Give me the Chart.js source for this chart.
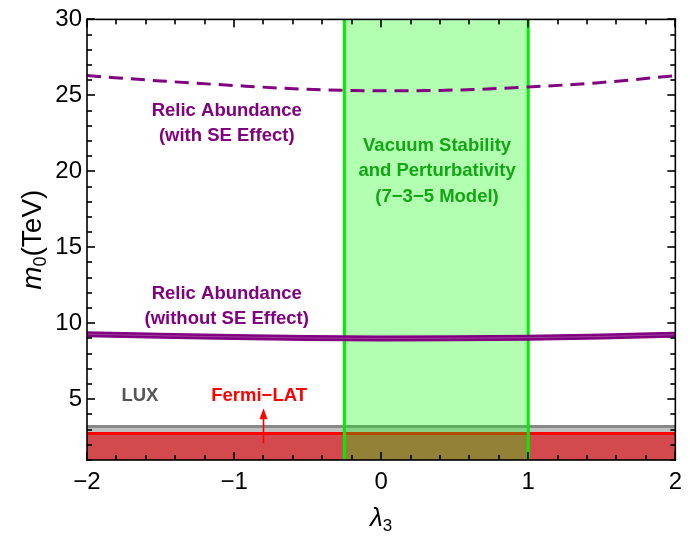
<!DOCTYPE html>
<html><head><meta charset="utf-8">
<script src="https://cdn.jsdelivr.net/npm/chart.js@4"></script>
<style>html,body{margin:0;padding:0;background:#fff}</style>
</head><body>
<canvas id="c" width="690" height="538"></canvas>
<script>
// ---- data ----
const lambdaPts = [-2, -1.5, -1, -0.5, 0, 0.5, 1, 1.5, 2];
const relicWithSE = [26.3, 25.95, 25.65, 25.4, 25.3, 25.35, 25.55, 25.85, 26.3];
const relicWithoutSE = [9.28, 9.18, 9.1, 9.03, 9.0, 9.01, 9.05, 9.13, 9.25];
const luxLimit = 3.2;
const fermiLimit = 2.75;
const stabilityRange = [-0.25, 1];
const xRange = [-2, 2];
const yRange = [1, 30];
const xTickLabels = [-2, -1, 0, 1, 2];
const yTickLabels = [5, 10, 15, 20, 25, 30];
const xMinorStep = 0.2;
const yMinorStep = 1;
const fermiArrow = {x: -0.8, from: 2.1, to: 4.4};

const FONT = '"Liberation Sans", Arial, Helvetica, sans-serif';
const pts = (xs, ys) => xs.map((x, i) => ({x, y: ys[i]}));
const flat = (v) => [{x: xRange[0], y: v}, {x: xRange[1], y: v}];

const labels = [
  {text: ['Relic Abundance', '(with SE Effect)'], x: -1.05, y: [23.95, 22.35], color: '#800080'},
  {text: ['Relic Abundance', '(without SE Effect)'], x: -1.05, y: [11.95, 10.3], color: '#800080'},
  {text: ['Vacuum Stability', 'and Perturbativity', '(7\u22123\u22125 Model)'], x: 0.38, y: [21.7, 20.05, 18.3], color: '#12a612'},
  {text: ['LUX'], x: -1.64, y: [5.2], color: '#555555'},
  {text: ['Fermi\u2212LAT'], x: -0.83, y: [5.2], color: '#ff0000'}
];

const decor = {
  id: 'decor',
  afterDraw(chart) {
    const ctx = chart.ctx, a = chart.chartArea;
    const sx = chart.scales.x, sy = chart.scales.y;
    ctx.save();
    ctx.setLineDash([]);
    // arrow
    const ax = sx.getPixelForValue(fermiArrow.x);
    const y0 = sy.getPixelForValue(fermiArrow.from), y1 = sy.getPixelForValue(fermiArrow.to);
    ctx.fillStyle = '#ff0000';
    ctx.fillRect(ax - 0.8, y1 + 8, 1.6, y0 - y1 - 8);
    ctx.beginPath(); ctx.moveTo(ax, y1); ctx.lineTo(ax - 4, y1 + 11); ctx.lineTo(ax + 4, y1 + 11); ctx.closePath(); ctx.fill();
    // labels
    ctx.textAlign = 'center'; ctx.textBaseline = 'middle';
    ctx.font = 'bold 18.5px ' + FONT;
    labels.forEach(l => {
      ctx.fillStyle = l.color;
      l.text.forEach((t, i) => ctx.fillText(t, sx.getPixelForValue(l.x), sy.getPixelForValue(l.y[i])));
    });
    // frame + inward ticks
    ctx.fillStyle = '#000000';
    const W = a.right - a.left, H = a.bottom - a.top;
    ctx.fillRect(a.left - 0.8, a.top - 0.8, W + 1.6, 1.6);
    ctx.fillRect(a.left - 0.8, a.bottom - 0.8, W + 1.6, 1.6);
    ctx.fillRect(a.left - 0.8, a.top - 0.8, 1.6, H + 1.6);
    ctx.fillRect(a.right - 0.8, a.top - 0.8, 1.6, H + 1.6);
    const nx = Math.round((xRange[1] - xRange[0]) / xMinorStep);
    for (let i = 0; i <= nx; i++) {
      const v = xRange[0] + i * xMinorStep;
      const L = xTickLabels.some(t => Math.abs(t - v) < 1e-6) ? 8 : 5;
      const px = Math.round(sx.getPixelForValue(v));
      ctx.fillRect(px - 0.8, a.bottom - L, 1.6, L);
      ctx.fillRect(px - 0.8, a.top, 1.6, L);
    }
    for (let v = yRange[0]; v <= yRange[1]; v += yMinorStep) {
      const L = yTickLabels.includes(v) ? 8 : 5;
      const py = Math.round(sy.getPixelForValue(v));
      ctx.fillRect(a.left, py - 0.8, L, 1.6);
      ctx.fillRect(a.right - L, py - 0.8, L, 1.6);
    }
    // axis titles
    ctx.fillStyle = '#000';
    ctx.textAlign = 'left'; ctx.textBaseline = 'alphabetic';
    const cx = (a.left + a.right) / 2;
    ctx.font = 'italic 26px ' + FONT;
    const wl = ctx.measureText('\u03bb').width;
    ctx.font = '17px ' + FONT;
    const w3 = ctx.measureText('3').width;
    let tx = cx - (wl + w3) / 2;
    ctx.font = 'italic 26px ' + FONT; ctx.fillText('\u03bb', tx, 526);
    ctx.font = '17px ' + FONT; ctx.fillText('3', tx + wl, 531);
    ctx.translate(41, (a.top + a.bottom) / 2);
    ctx.rotate(-Math.PI / 2);
    ctx.font = 'italic 28px ' + FONT; const wm = ctx.measureText('m').width;
    ctx.font = '18px ' + FONT; const w0 = ctx.measureText('0').width;
    ctx.font = '28px ' + FONT; const wt = ctx.measureText('(TeV)').width;
    tx = -(wm + w0 + wt) / 2;
    ctx.font = 'italic 28px ' + FONT; ctx.fillText('m', tx, 0);
    ctx.font = '18px ' + FONT; ctx.fillText('0', tx + wm, 5);
    ctx.font = '28px ' + FONT; ctx.fillText('(TeV)', tx + wm + w0, 0);
    ctx.restore();
  }
};

new Chart(document.getElementById('c'), {
  type: 'line',
  data: {
    datasets: [
      {data: pts(lambdaPts, relicWithSE), borderColor: '#800080', borderWidth: 3, borderDash: [14, 8], pointRadius: 0, cubicInterpolationMode: 'monotone', fill: false, order: 1},
      {data: pts(lambdaPts, relicWithoutSE), borderColor: 'rgba(165,70,165,0.9)', borderWidth: 1, pointRadius: 0, cubicInterpolationMode: 'monotone', fill: false, order: 1},
      {data: pts(lambdaPts, relicWithoutSE), borderColor: '#800080', borderWidth: 6, pointRadius: 0, cubicInterpolationMode: 'monotone', fill: false, order: 2},
      {data: [{x: stabilityRange[0], y: yRange[0]}, {x: stabilityRange[0], y: yRange[1]}], borderColor: '#00ee00', borderWidth: 3, pointRadius: 0, fill: false, order: 3},
      {data: [{x: stabilityRange[1], y: yRange[0]}, {x: stabilityRange[1], y: yRange[1]}], borderColor: '#00ee00', borderWidth: 3, pointRadius: 0, fill: false, order: 3},
      {data: [{x: stabilityRange[0], y: yRange[1]}, {x: stabilityRange[1], y: yRange[1]}], borderWidth: 0, borderColor: 'rgba(0,0,0,0)', backgroundColor: 'rgba(0,255,0,0.3)', pointRadius: 0, fill: 'start', order: 4},
      {data: flat(fermiLimit), borderColor: '#ff0000', borderWidth: 3, backgroundColor: 'rgba(215,45,50,0.8)', pointRadius: 0, fill: 'start', order: 5},
      {data: flat(luxLimit), borderColor: '#888888', borderWidth: 3, backgroundColor: 'rgba(185,185,185,0.9)', pointRadius: 0, fill: 'start', order: 6}
    ]
  },
  options: {
    responsive: false, animation: false, devicePixelRatio: 1,
    layout: {padding: {top: 15, right: 9, left: 0, bottom: 0}},
    plugins: {legend: {display: false}, tooltip: {enabled: false}},
    scales: {
      x: {
        type: 'linear', min: xRange[0], max: xRange[1],
        afterFit: s => { s.height = 78; },
        afterBuildTicks: s => { s.ticks = xTickLabels.map(v => ({value: v})); },
        grid: {display: false, drawTicks: false, tickLength: 0}, border: {display: false},
        ticks: {padding: 8, color: '#000', font: {family: FONT, size: 24},
          callback: v => String(v).replace('-', '\u2212')}
      },
      y: {
        type: 'linear', min: yRange[0], max: yRange[1],
        afterFit: s => { s.width = 87; },
        afterBuildTicks: s => { s.ticks = yTickLabels.map(v => ({value: v})); },
        grid: {display: false, drawTicks: false, tickLength: 0}, border: {display: false},
        ticks: {padding: 5, color: '#000', font: {family: FONT, size: 24}}
      }
    }
  },
  plugins: [decor]
});
</script>
</body></html>
